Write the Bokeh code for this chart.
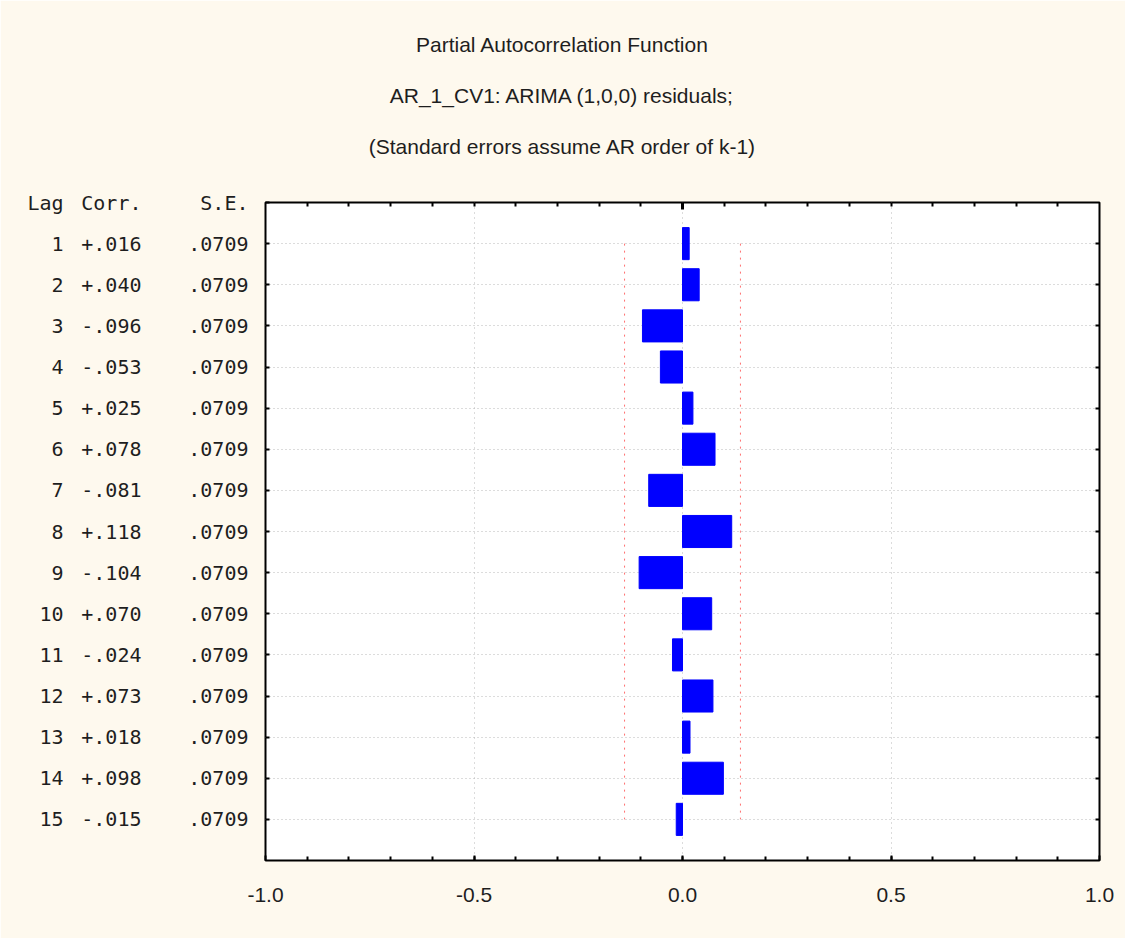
import numpy as np
from bokeh.plotting import figure
from bokeh.models import Range1d, FixedTicker, LinearAxis, ColumnDataSource
from bokeh.embed import file_html
from bokeh.resources import INLINE

# ---------------- data ----------------
lags = [1, 2, 3, 4, 5, 6, 7, 8, 9, 10, 11, 12, 13, 14, 15]
corr = [0.016, 0.040, -0.096, -0.053, 0.025, 0.078, -0.081, 0.118,
        -0.104, 0.070, -0.024, 0.073, 0.018, 0.098, -0.015]
se = [0.0709] * 15
corr_labels = ["+.016", "+.040", "-.096", "-.053", "+.025", "+.078", "-.081", "+.118",
               "-.104", "+.070", "-.024", "+.073", "+.018", "+.098", "-.015"]
se_labels = [".0709"] * 15
header_labels = ["Lag", "Corr.", "S.E."]
x_ticks = [-1.0, -0.5, 0.0, 0.5, 1.0]
x_tick_labels = ["-1.0", "-0.5", "0.0", "0.5", "1.0"]
title_lines = ["Partial Autocorrelation Function",
               "AR_1_CV1: ARIMA (1,0,0) residuals;",
               "(Standard errors assume AR order of k-1)"]

# ---------------- layout ----------------
W, H = 1125, 938
L, R, T, B = 265, 1099, 202, 860
XMIN, XMAX = -1.0, 1.0
YMIN, YMAX = 0.0, 16.0
BG = "#FEF9EE"
TXT = "#1e1e1e"
MONO = "DejaVu Sans Mono"
SANS = "Liberation Sans"


def px2x(px):
    return XMIN + (px - L) * (XMAX - XMIN) / (R - L)


p = figure(width=W, height=H,
           x_range=Range1d(XMIN, XMAX), y_range=Range1d(YMAX, YMIN),
           min_border_left=L, min_border_right=W - R,
           min_border_top=T, min_border_bottom=H - B,
           output_backend="svg", toolbar_location=None,
           background_fill_color="white", border_fill_color=BG,
           outline_line_color="black", outline_line_width=2)

minor = [round(v, 1) for v in np.arange(-0.9, 1.0, 0.1)]


def quiet(ax):
    ax.axis_line_color = None
    ax.major_tick_line_color = None
    ax.minor_tick_line_color = None
    ax.major_tick_in = 0
    ax.major_tick_out = 0
    ax.minor_tick_in = 0
    ax.minor_tick_out = 0


# bottom axis
xa = p.xaxis[0]
xa.ticker = FixedTicker(ticks=x_ticks, minor_ticks=minor)
xa.major_label_overrides = {t: s for t, s in zip(x_ticks, x_tick_labels)}
xa.axis_line_color = None
xa.major_tick_in = 5
xa.major_tick_out = 0
xa.minor_tick_in = 4
xa.minor_tick_out = 0
xa.major_tick_line_width = 2
xa.minor_tick_line_width = 2
xa.major_tick_line_color = "black"
xa.minor_tick_line_color = "black"
xa.major_label_standoff = 27
xa.major_label_text_font = SANS
xa.major_label_text_font_size = "21px"
xa.major_label_text_color = TXT

# top tick axis (nearest the frame)
ta = LinearAxis(ticker=FixedTicker(ticks=[0.0], minor_ticks=minor))
ta.axis_line_color = None
ta.major_tick_in = 7
ta.major_tick_out = 0
ta.minor_tick_in = 4
ta.minor_tick_out = 0
ta.major_tick_line_width = 3
ta.minor_tick_line_width = 2
ta.major_label_text_color = None
ta.major_label_text_font_size = "0px"
ta.major_label_standoff = 0
p.add_layout(ta, "above")

# title lines: centred labels of axes stacked above the frame
title_x = px2x(562)
standoffs = [45, 25, 25]
for txt, so in zip(reversed(title_lines), standoffs):
    ax = LinearAxis(ticker=FixedTicker(ticks=[title_x], minor_ticks=[]))
    quiet(ax)
    ax.major_label_overrides = {title_x: txt}
    ax.major_label_standoff = so
    ax.major_label_text_font = SANS
    ax.major_label_text_font_size = "21px"
    ax.major_label_text_color = TXT
    p.add_layout(ax, "above")

# left axis with ticks + S.E. column
row_ticks = [0] + lags
ya = p.yaxis[0]
ya.ticker = FixedTicker(ticks=row_ticks, minor_ticks=[])
ya.axis_line_color = None
ya.major_tick_in = 4
ya.major_tick_out = 0
ya.major_tick_line_width = 2
ya.major_tick_line_color = "black"
ya.major_label_overrides = dict(zip(row_ticks, [header_labels[2]] + se_labels))
ya.major_label_standoff = 17
ya.major_label_text_font = MONO
ya.major_label_text_font_size = "20px"
ya.major_label_text_color = TXT

# Corr. column
ca = LinearAxis(ticker=FixedTicker(ticks=row_ticks, minor_ticks=[]))
quiet(ca)
ca.major_label_overrides = dict(zip(row_ticks, [header_labels[1]] + corr_labels))
ca.major_label_standoff = 44
ca.major_label_text_font = MONO
ca.major_label_text_font_size = "20px"
ca.major_label_text_color = TXT
p.add_layout(ca, "left")

# Lag column
la = LinearAxis(ticker=FixedTicker(ticks=row_ticks, minor_ticks=[]))
quiet(la)
la.major_label_overrides = dict(zip(row_ticks, [header_labels[0]] + [str(v) for v in lags]))
la.major_label_standoff = 15
la.major_label_text_font = MONO
la.major_label_text_font_size = "20px"
la.major_label_text_color = TXT
p.add_layout(la, "left")

# right axis (ticks only)
ra = LinearAxis(ticker=FixedTicker(ticks=lags, minor_ticks=[]))
ra.axis_line_color = None
ra.major_tick_in = 4
ra.major_tick_out = 0
ra.major_tick_line_width = 2
ra.major_tick_line_color = "black"
ra.major_label_text_color = None
ra.major_label_text_font_size = "0px"
ra.major_label_standoff = 0
p.add_layout(ra, "right")

# grids
p.xgrid.ticker = FixedTicker(ticks=[-0.5, 0.0, 0.5], minor_ticks=[])
p.xgrid.grid_line_color = "#b8b8b8"
p.xgrid.grid_line_dash = "1 4"
p.ygrid.ticker = FixedTicker(ticks=lags, minor_ticks=[])
p.ygrid.grid_line_color = "#b8b8b8"
p.ygrid.grid_line_dash = "1 3"

src = ColumnDataSource(dict(lag=lags, corr=corr, zero=[0.0] * len(lags),
                            hi=[1.96 * s for s in se], lo=[-1.96 * s for s in se]))

# confidence limits
p.line(x="hi", y="lag", source=src, line_color="#ff3030", line_alpha=0.7,
       line_width=1, line_dash="2 5")
p.line(x="lo", y="lag", source=src, line_color="#ff3030", line_alpha=0.7,
       line_width=1, line_dash="2 5")

# bars
p.hbar(y="lag", left="zero", right="corr", height=0.78, source=src,
       fill_color="#0000ff", line_color="#0000ff", line_width=1)

open("out.html", "w").write(file_html(p, INLINE))
